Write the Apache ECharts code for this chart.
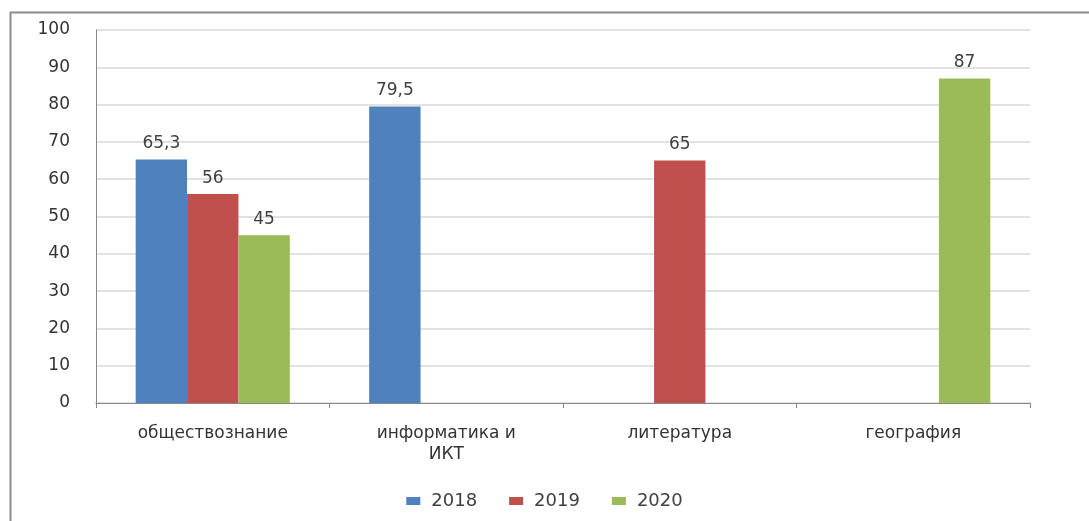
<!DOCTYPE html>
<html><head><meta charset="utf-8">
<script src="https://cdn.jsdelivr.net/npm/echarts@6/dist/echarts.min.js"></script>
<style>html,body{margin:0;padding:0;background:#fff}#c{width:1089px;height:521px}</style>
</head><body><div id="c"></div>
<script>
const categories = ['обществознание', 'информатика и\nИКТ', 'литература', 'география'];
const seriesNames = ['2018', '2019', '2020'];
const values2018 = [65.3, 79.5, null, null];
const values2019 = [56, null, 65, null];
const values2020 = [45, null, null, 87];
const colors = ['#4F81BD', '#C0504D', '#9BBB59'];
const font = 'DejaVu Sans';
const chart = echarts.init(document.getElementById('c'));
const mk = (name, data, color) => ({
  name, type: 'bar', data, barGap: '0%', barCategoryGap: '34%',
  itemStyle: { color },
  label: { show: true, position: 'top', distance: 7, color: '#404040', fontFamily: font, fontSize: 17,
    formatter: p => String(p.value).replace('.', ',') }
});
chart.setOption({
  animation: false,
  graphic: [{ type: 'rect', shape: { x: 10.5, y: 12.5, width: 1200, height: 600 }, style: { fill: 'none', stroke: '#8c8c8c', lineWidth: 2 } }],
  grid: { left: 96, right: 59, top: 30, bottom: 118 },
  legend: { bottom: 6, left: 'center', itemWidth: 14, itemHeight: 8, itemGap: 32,
    textStyle: { fontFamily: font, fontSize: 18, color: '#404040', padding: [0, 0, 0, 6] },
    icon: 'rect', data: seriesNames },
  xAxis: { type: 'category', data: categories,
    axisLine: { lineStyle: { color: '#888' } },
    axisTick: { show: true, length: 5, lineStyle: { color: '#888' } },
    axisLabel: { fontFamily: font, fontSize: 17, color: '#333', margin: 20, lineHeight: 21 } },
  yAxis: { type: 'value', min: 0, max: 100, interval: 10,
    axisLine: { show: true, lineStyle: { color: '#888' } },
    axisTick: { show: false },
    splitLine: { lineStyle: { color: '#d9d9d9', width: 1.5 } },
    axisLabel: { fontFamily: font, fontSize: 17, color: '#333', margin: 26 } },
  series: [mk(seriesNames[0], values2018, colors[0]), mk(seriesNames[1], values2019, colors[1]), mk(seriesNames[2], values2020, colors[2])]
});
</script></body></html>
